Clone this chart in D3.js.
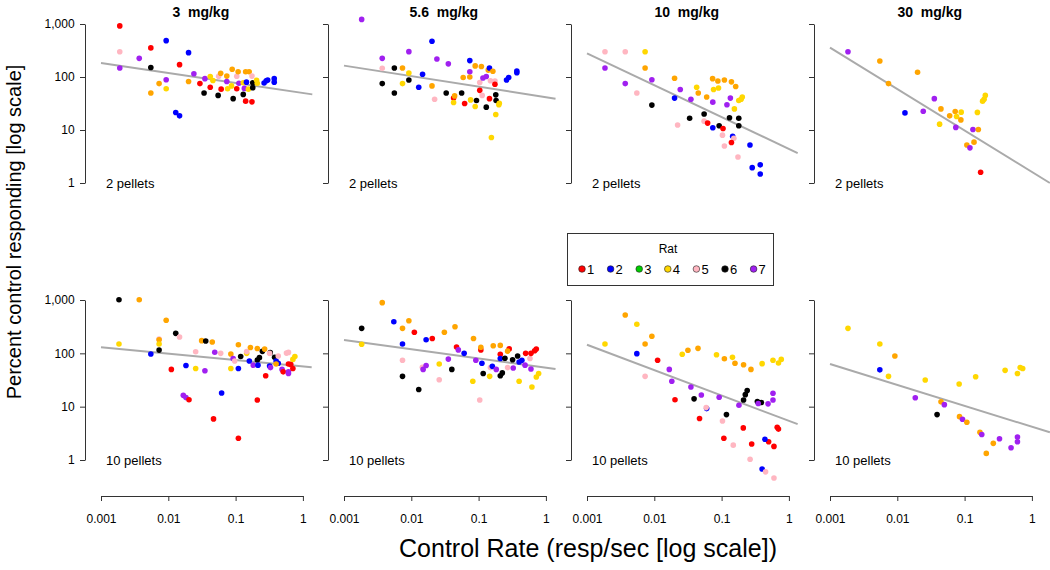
<!DOCTYPE html>
<html><head><meta charset="utf-8">
<script src="https://cdn.jsdelivr.net/npm/d3@7"></script>
<style>
body{margin:0;background:#fff;}
svg{font-family:"Liberation Sans",Arial,Helvetica,sans-serif;}
</style></head>
<body><svg id="chart" width="1050" height="570"></svg>
<script>
// ---- data ----
const doses = ["3  mg/kg", "5.6  mg/kg", "10  mg/kg", "30  mg/kg"];
const pelletLabels = ["2 pellets", "10 pellets"];
const xTicks = [0.001, 0.01, 0.1, 1];
const xTickLabels = ["0.001", "0.01", "0.1", "1"];
const yTicks = [1, 10, 100, 1000];
const yTickLabels = ["1", "10", "100", "1,000"];
const ratLabels = ["1", "2", "3", "4", "5", "6", "7"];
const ratColors = ["#FF0000", "#0000FF", "#00CD00", "#FFD700", "#FFB6C1", "#000000", "#A020F0"];
// point groups: R=rat1 red, B=rat2 blue, Y=rat4 gold, O=orange, P=rat5 pink, K=rat6 black, V=rat7 purple
const groupColors = {R:"#FF0000", B:"#0000FF", G:"#00CD00", Y:"#FFD700", O:"#FFA500", P:"#FFB6C1", K:"#000000", V:"#A020F0"};

// [control rate, percent control, group]
const top3 = [[0.0019,920,"R"],[0.0019,300,"P"],[0.0019,148,"V"],[0.0037,225,"V"],[0.0055,354,"R"],[0.0055,151,"K"],[0.0055,50,"O"],[0.0073,75,"O"],[0.0093,89,"V"],[0.0093,60,"Y"],[0.0093,485,"B"],[0.0129,21.4,"B"],[0.0147,18.5,"B"],[0.0147,171,"R"],[0.020,288,"B"],[0.020,82,"O"],[0.024,115,"V"],[0.0295,75,"R"],[0.034,50,"K"],[0.035,93,"V"],[0.042,64,"R"],[0.042,102,"Y"],[0.046,86,"Y"],[0.055,45,"K"],[0.056,103,"P"],[0.060,118,"O"],[0.061,59,"R"],[0.074,104,"O"],[0.074,82,"V"],[0.076,60,"Y"],[0.087,68,"Y"],[0.089,140,"O"],[0.092,39,"K"],[0.104,103,"P"],[0.104,60,"R"],[0.109,126,"O"],[0.112,76,"V"],[0.13,47,"K"],[0.13,78,"Y"],[0.141,35,"R"],[0.141,126,"O"],[0.145,80,"B"],[0.135,61,"V"],[0.159,126,"O"],[0.155,59,"Y"],[0.175,34,"R"],[0.175,104,"P"],[0.18,78,"K"],[0.18,63,"K"],[0.205,87,"Y"],[0.21,76,"Y"],[0.265,77,"B"],[0.285,85,"B"],[0.30,88,"B"],[0.375,93,"B"],[0.375,80,"B"]];
const top56 = [[0.00183,1220,"V"],[0.0037,225,"V"],[0.0037,146,"P"],[0.0037,75,"K"],[0.0056,148,"K"],[0.0056,50,"K"],[0.0074,148,"O"],[0.0092,119,"Y"],[0.0092,88,"K"],[0.0074,75,"Y"],[0.0092,301,"V"],[0.0147,113,"B"],[0.0129,64,"B"],[0.0222,38,"P"],[0.0203,68,"O"],[0.0203,472,"B"],[0.024,219,"V"],[0.0355,177,"V"],[0.033,50,"K"],[0.0425,40,"R"],[0.044,44,"O"],[0.0425,33,"Y"],[0.056,50,"K"],[0.059,98,"O"],[0.062,31.6,"R"],[0.074,100,"O"],[0.074,126,"V"],[0.074,204,"B"],[0.076,37,"Y"],[0.089,162,"O"],[0.093,36,"K"],[0.089,27.7,"Y"],[0.11,158,"O"],[0.104,79,"P"],[0.104,56,"R"],[0.113,45,"P"],[0.116,96,"V"],[0.13,102,"V"],[0.13,27,"K"],[0.139,135,"O"],[0.145,148,"B"],[0.163,128,"O"],[0.145,39,"R"],[0.15,85,"P"],[0.155,7.2,"Y"],[0.175,84,"P"],[0.175,73,"R"],[0.18,46,"K"],[0.182,36,"K"],[0.18,19.6,"Y"],[0.203,32,"Y"],[0.2,30,"Y"],[0.26,88,"B"],[0.28,98,"B"],[0.37,120,"B"],[0.37,130,"B"]];
const top10 = [[0.00185,300,"P"],[0.00185,148,"V"],[0.0037,300,"P"],[0.0037,75,"V"],[0.0073,300,"Y"],[0.0073,148,"O"],[0.0055,50,"P"],[0.0092,89,"V"],[0.0092,29.5,"K"],[0.020,95,"O"],[0.0222,12.4,"P"],[0.020,40,"B"],[0.0243,58,"V"],[0.0335,16.7,"K"],[0.035,38,"V"],[0.0426,64,"Y"],[0.045,50,"O"],[0.06,42,"O"],[0.055,20,"K"],[0.055,14.7,"P"],[0.062,13.5,"R"],[0.0735,93,"O"],[0.076,58,"Y"],[0.074,33.5,"V"],[0.088,84,"O"],[0.09,62,"Y"],[0.074,11,"B"],[0.092,12,"K"],[0.105,10.7,"R"],[0.103,8,"P"],[0.11,5,"P"],[0.11,88,"O"],[0.131,17,"K"],[0.135,40,"V"],[0.12,30,"V"],[0.14,81,"O"],[0.162,66,"O"],[0.155,25,"Y"],[0.146,7.6,"B"],[0.152,7,"P"],[0.14,5.8,"R"],[0.175,3.1,"P"],[0.18,16.7,"K"],[0.18,12,"K"],[0.18,36,"Y"],[0.203,42,"Y"],[0.195,38,"Y"],[0.264,5.2,"B"],[0.285,1.95,"B"],[0.375,2.2,"B"],[0.375,1.48,"B"]];
const top30 = [[0.00185,300,"V"],[0.0055,201,"O"],[0.0074,75,"O"],[0.020,123,"O"],[0.013,21,"B"],[0.0243,22.6,"V"],[0.0355,39,"V"],[0.0445,25,"O"],[0.0425,12.9,"Y"],[0.06,18.5,"O"],[0.0725,22.3,"O"],[0.089,21.7,"Y"],[0.076,18,"Y"],[0.088,15.5,"O"],[0.074,11.2,"V"],[0.155,21.5,"Y"],[0.185,35,"Y"],[0.195,38,"Y"],[0.203,45,"Y"],[0.133,10.2,"V"],[0.16,10.2,"O"],[0.108,5.2,"O"],[0.138,5.9,"O"],[0.12,4.6,"V"],[0.173,1.6,"R"]];
const bot3 = [[0.00185,1010,"K"],[0.0037,1010,"O"],[0.00185,150,"Y"],[0.0093,416,"O"],[0.0073,186,"P"],[0.0073,180,"O"],[0.0073,150,"Y"],[0.0073,115,"K"],[0.0055,97,"B"],[0.0129,237,"K"],[0.0147,202,"P"],[0.0111,50,"R"],[0.0183,59,"B"],[0.0167,16.3,"V"],[0.0183,14.8,"V"],[0.0203,13.5,"R"],[0.0255,107,"P"],[0.0255,52,"Y"],[0.035,47,"V"],[0.0313,173,"O"],[0.036,170,"K"],[0.045,163,"O"],[0.049,105,"V"],[0.060,100,"P"],[0.062,18,"B"],[0.047,5.9,"R"],[0.085,97,"O"],[0.085,52,"Y"],[0.092,80,"V"],[0.097,72,"P"],[0.119,87,"K"],[0.11,145,"O"],[0.11,52,"B"],[0.11,2.55,"R"],[0.146,100,"Y"],[0.146,108,"P"],[0.166,129,"O"],[0.16,72,"B"],[0.183,60,"V"],[0.21,123,"O"],[0.21,75,"K"],[0.226,83,"K"],[0.215,60,"B"],[0.21,13.3,"R"],[0.28,38,"R"],[0.25,109,"K"],[0.27,120,"O"],[0.327,103,"K"],[0.32,100,"P"],[0.38,84,"K"],[0.32,58,"B"],[0.33,54,"V"],[0.4,72,"B"],[0.43,65,"B"],[0.43,89,"P"],[0.4,63,"O"],[0.49,50,"V"],[0.51,45,"R"],[0.61,45,"V"],[0.61,42,"V"],[0.57,101,"P"],[0.61,104,"P"],[0.61,63,"R"],[0.66,62,"R"],[0.71,52,"R"],[0.71,77,"Y"],[0.76,87,"Y"]];
const bot56 = [[0.00183,294,"K"],[0.00183,148,"Y"],[0.0037,891,"O"],[0.0055,392,"B"],[0.0092,408,"O"],[0.0074,294,"O"],[0.0074,150,"B"],[0.0074,74,"P"],[0.0074,37,"K"],[0.0111,248,"R"],[0.0129,21,"K"],[0.0146,55,"P"],[0.015,50,"V"],[0.0166,59,"V"],[0.0166,180,"B"],[0.0205,190,"R"],[0.026,63,"Y"],[0.026,32,"P"],[0.031,248,"O"],[0.0355,78,"V"],[0.04,50,"K"],[0.0446,316,"O"],[0.047,131,"R"],[0.05,116,"V"],[0.061,100,"B"],[0.084,190,"O"],[0.082,30,"Y"],[0.091,74,"V"],[0.108,116,"R"],[0.108,130,"O"],[0.104,13.3,"P"],[0.112,65,"B"],[0.117,42,"K"],[0.146,37,"Y"],[0.15,54,"P"],[0.16,57,"B"],[0.183,50,"V"],[0.165,139,"O"],[0.21,141,"O"],[0.21,96,"R"],[0.21,38,"K"],[0.225,43,"K"],[0.21,80,"B"],[0.246,81,"K"],[0.285,121,"R"],[0.27,110,"O"],[0.27,54,"P"],[0.327,53,"V"],[0.32,76,"K"],[0.38,89,"K"],[0.4,69,"B"],[0.44,74,"B"],[0.4,30,"Y"],[0.49,60,"V"],[0.58,80,"P"],[0.6,51,"V"],[0.5,100,"R"],[0.6,100,"R"],[0.68,112,"R"],[0.72,120,"R"],[0.62,23.4,"Y"],[0.72,36,"Y"],[0.78,42,"Y"]];
const bot10 = [[0.00185,150,"Y"],[0.0037,523,"O"],[0.0055,350,"Y"],[0.0073,150,"O"],[0.0092,209,"O"],[0.0055,98.6,"B"],[0.0073,37,"P"],[0.0112,74,"R"],[0.0167,50,"V"],[0.0182,30,"V"],[0.0203,13.5,"R"],[0.026,96,"Y"],[0.0316,114,"O"],[0.0446,124,"O"],[0.035,23.4,"V"],[0.039,14,"K"],[0.05,16.6,"V"],[0.06,9.2,"B"],[0.059,9.6,"P"],[0.047,6,"R"],[0.084,94,"Y"],[0.11,79,"O"],[0.092,15,"V"],[0.118,7.1,"K"],[0.103,5.4,"P"],[0.108,2.55,"R"],[0.149,1.9,"P"],[0.145,84,"Y"],[0.158,65,"O"],[0.212,61,"O"],[0.273,50,"O"],[0.181,10.6,"V"],[0.212,13.3,"K"],[0.225,16.8,"K"],[0.24,20,"K"],[0.21,4,"R"],[0.28,2,"R"],[0.265,1.03,"P"],[0.4,64,"Y"],[0.34,12.5,"K"],[0.39,12,"K"],[0.35,11.5,"V"],[0.49,11.3,"V"],[0.58,13.3,"V"],[0.58,17.8,"V"],[0.58,74,"Y"],[0.7,66,"Y"],[0.77,77,"Y"],[0.5,2.2,"R"],[0.6,1.8,"R"],[0.67,4.1,"R"],[0.7,3.8,"R"],[0.44,2.45,"B"],[0.4,0.68,"B"],[0.45,0.6,"P"],[0.6,0.46,"P"]];
const bot30 = [[0.00185,294,"Y"],[0.0055,150,"Y"],[0.0092,89,"O"],[0.0055,49,"B"],[0.0074,37,"Y"],[0.026,31.6,"Y"],[0.0185,14.7,"V"],[0.0446,12.3,"O"],[0.05,10.9,"V"],[0.039,7.1,"K"],[0.083,26.6,"Y"],[0.146,36.5,"Y"],[0.084,6.5,"O"],[0.093,5.8,"V"],[0.108,5.1,"O"],[0.169,3.3,"O"],[0.18,3.0,"V"],[0.267,2.05,"O"],[0.21,1.33,"O"],[0.33,2.5,"V"],[0.49,1.7,"V"],[0.61,2.7,"V"],[0.61,2.2,"V"],[0.4,48,"Y"],[0.61,42,"Y"],[0.67,54,"Y"],[0.73,52,"Y"]];

// fitted lines: [x1, y1, x2, y2]
const fitTop = [[0.001,184,1.38,47],[0.001,164,1.39,39],[0.001,280,1.35,3.67],[0.001,358,1.85,1.0]];
const fitBot = [[0.001,130,1.35,55],[0.001,178,1.39,51],[0.001,145,1.35,4.7],[0.001,63,1.85,3.3]];

const pointsTop = [top3, top56, top10, top30];
const pointsBot = [bot3, bot56, bot10, bot30];

// ---- drawing ----
const svg = d3.select("#chart");
const colX0 = [101, 344, 587, 830];
const decadeW = 67.3;
const rowY = [[183, 24], [460, 300]];
const axisColor = "#333";

for (let r = 0; r < 2; r++) {
  for (let c = 0; c < 4; c++) {
    const x = d3.scaleLog().domain([0.001, 1]).range([colX0[c], colX0[c] + 3 * decadeW]);
    const y = d3.scaleLog().domain([1, 1000]).range(rowY[r]);
    const g = svg.append("g");
    const axX = colX0[c] - 16;

    // y axis
    const ya = g.append("g").attr("transform", `translate(${axX},0)`)
      .call(d3.axisLeft(y).tickValues(yTicks).tickSize(5).tickSizeOuter(0)
        .tickFormat((d, i) => c === 0 ? yTickLabels[i] : ""));
    ya.select(".domain").attr("stroke", axisColor);
    ya.selectAll(".tick line").attr("stroke", axisColor);
    ya.selectAll("text").attr("font-size", 12).attr("fill", "#000").attr("dx", "-0.2em");

    // x axis on bottom row
    if (r === 1) {
      const xa = g.append("g").attr("transform", `translate(0,496)`)
        .call(d3.axisBottom(x).tickValues(xTicks).tickSize(5).tickSizeOuter(0)
          .tickFormat((d, i) => xTickLabels[i]));
      xa.select(".domain").attr("stroke", axisColor);
      xa.selectAll(".tick line").attr("stroke", axisColor);
      xa.selectAll("text").attr("font-size", 12).attr("fill", "#000").attr("dy", "1.55em");
    }

    // fit line
    const f = (r === 0 ? fitTop : fitBot)[c];
    g.append("line")
      .attr("x1", x(f[0])).attr("y1", y(f[1]))
      .attr("x2", x(f[2])).attr("y2", y(f[3]))
      .attr("stroke", "#aaaaaa").attr("stroke-width", 2);

    // points
    const pts = (r === 0 ? pointsTop : pointsBot)[c];
    g.selectAll("circle").data(pts).enter().append("circle")
      .attr("cx", d => x(d[0])).attr("cy", d => y(d[1]))
      .attr("r", 2.8).attr("fill", d => groupColors[d[2]]);

    // pellet label
    g.append("text").attr("x", colX0[c] + 5).attr("y", rowY[r][0] + 5)
      .attr("font-size", 13).text(pelletLabels[r]);

    // dose title
    if (r === 0) {
      g.append("text").attr("x", (axX + x(1.6)) / 2).attr("y", 17)
        .attr("text-anchor", "middle").attr("font-size", 14).attr("font-weight", "bold")
        .attr("xml:space", "preserve").style("white-space", "pre").text(doses[c]);
    }
  }
}

// axis titles
svg.append("text").attr("x", 588).attr("y", 557).attr("text-anchor", "middle")
  .attr("font-size", 25).text("Control Rate (resp/sec [log scale])");
svg.append("text").attr("transform", "translate(21,232) rotate(-90)").attr("text-anchor", "middle")
  .attr("font-size", 20).text("Percent control responding [log scale]");

// legend
const lg = svg.append("g");
lg.append("rect").attr("x", 567.5).attr("y", 233.5).attr("width", 206).attr("height", 52)
  .attr("fill", "#fff").attr("stroke", "#333");
lg.append("text").attr("x", 668).attr("y", 253).attr("text-anchor", "middle").attr("font-size", 12).text("Rat");
ratLabels.forEach((lab, i) => {
  const cx = 582 + i * 28.6;
  lg.append("circle").attr("cx", cx).attr("cy", 269).attr("r", 3.3)
    .attr("fill", ratColors[i]).attr("stroke", "#222").attr("stroke-width", 0.6);
  lg.append("text").attr("x", cx + 5).attr("y", 274).attr("font-size", 13).text(lab);
});
</script></body></html>
